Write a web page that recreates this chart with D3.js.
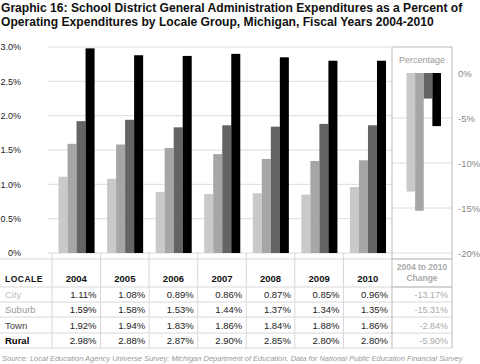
<!DOCTYPE html>
<html><head><meta charset="utf-8">
<script src="https://cdn.jsdelivr.net/npm/d3@7"></script>
<style>
body{margin:0;background:#fff;}
svg{font-family:"Liberation Sans",Arial,sans-serif;display:block;}
</style></head>
<body><svg id="c" width="480" height="364"></svg>
<script>
const years = ["2004","2005","2006","2007","2008","2009","2010"];
const locales = ["City","Suburb","Town","Rural"];
const city   = [1.11,1.08,0.89,0.86,0.87,0.85,0.96];
const suburb = [1.59,1.58,1.53,1.44,1.37,1.34,1.35];
const town   = [1.92,1.94,1.83,1.86,1.84,1.88,1.86];
const rural  = [2.98,2.88,2.87,2.90,2.85,2.80,2.80];
const change = [-13.17,-15.31,-2.84,-5.90];
const leftTicks = [0,0.5,1.0,1.5,2.0,2.5,3.0];
const rightTicks = [0,-5,-10,-15,-20];
const colors = ["#c9c9c9","#a6a6a6","#646464","#000000"];
const labelColors = ["#bdbdbd","#9a9a9a","#444","#000"];

const series = [city,suburb,town,rural];
const svg = d3.select("#c");

// title
svg.append("text").attr("x",1).attr("y",12).attr("font-size",12.1).attr("font-weight","bold").attr("fill","#111")
  .text("Graphic 16: School District General Administration Expenditures as a Percent of");
svg.append("text").attr("x",1).attr("y",26).attr("font-size",12.1).attr("font-weight","bold").attr("fill","#111")
  .text("Operating Expenditures by Locale Group, Michigan, Fiscal Years 2004-2010");

const x0 = d3.scaleBand().domain(years).range([52,392]).paddingInner(0).paddingOuter(0);
const x1 = d3.scaleBand().domain(locales).range([6.5,x0.bandwidth()-6]).padding(0);
const y = d3.scaleLinear().domain([0,3]).range([253,47]);

// left gridlines
svg.append("g").selectAll("line").data(leftTicks).join("line")
  .attr("x1",48).attr("x2",392).attr("y1",d=>y(d)).attr("y2",d=>y(d))
  .attr("stroke","#dcdcdc").attr("stroke-width",1);
svg.append("g").selectAll("text").data(leftTicks).join("text")
  .attr("x",21).attr("y",d=>y(d)+3.2).attr("text-anchor","end").attr("font-size",9).attr("fill","#222")
  .text(d=>d===0?"0%":d3.format(".1f")(d)+"%");

// bars
years.forEach((yr,i)=>{
  const g = svg.append("g").attr("transform",`translate(${x0(yr)},0)`);
  g.selectAll("rect").data(locales.map((l,j)=>({l,v:series[j][i],c:colors[j]}))).join("rect")
    .attr("x",d=>x1(d.l)).attr("width",x1.bandwidth()).attr("y",d=>y(d.v)).attr("height",d=>y(0)-y(d.v))
    .attr("fill",d=>d.c);
});

// right panel
const yr2 = d3.scaleLinear().domain([-20,0]).range([253,73]);
const px0 = 392, px1 = 452;
const xr = d3.scaleBand().domain(locales).range([406.5,441]).padding(0);
svg.append("g").selectAll("line").data(rightTicks.filter(d=>d!==0)).join("line")
  .attr("x1",px0).attr("x2",px1).attr("y1",d=>yr2(d)).attr("y2",d=>yr2(d))
  .attr("stroke","#dcdcdc");
svg.append("g").selectAll("rect").data(locales.map((l,j)=>({l,v:change[j],c:colors[j]}))).join("rect")
  .attr("x",d=>xr(d.l)).attr("width",xr.bandwidth()).attr("y",yr2(0)).attr("height",d=>yr2(d.v)-yr2(0))
  .attr("fill",d=>d.c);
svg.append("g").selectAll("text").data(rightTicks).join("text")
  .attr("x",458).attr("y",d=>yr2(d)+3.5).attr("font-size",9.5).attr("fill","#888")
  .text(d=>d+"%");
svg.append("text").attr("x",(px0+px1)/2).attr("y",63).attr("text-anchor","middle").attr("font-size",9).attr("fill","#999").text("Percentage");

// table
const rowY = [259,287,302,317,333,348];
const borderC = "#d8d8d8";
rowY.forEach(yy=>{
  svg.append("line").attr("x1",0).attr("x2",452).attr("y1",yy).attr("y2",yy).attr("stroke",borderC);
});
years.forEach(yr=>{
  svg.append("line").attr("x1",x0(yr)).attr("x2",x0(yr)).attr("y1",253).attr("y2",348).attr("stroke",borderC);
});
svg.append("path").attr("d",`M${px0},348V47H${px1}V348`).attr("fill","none").attr("stroke","#bbb");
svg.append("line").attr("x1",px0).attr("x2",px1).attr("y1",287).attr("y2",287).attr("stroke","#bbb");
svg.append("line").attr("x1",px0).attr("x2",px1).attr("y1",259).attr("y2",259).attr("stroke","#bbb");

svg.append("text").attr("x",5).attr("y",282).attr("font-size",8.5).attr("font-weight","bold").attr("letter-spacing",0.5).attr("fill","#111").text("LOCALE");
svg.selectAll(".yh").data(years).join("text").attr("class","yh")
  .attr("x",d=>x0(d)+x0.bandwidth()/2).attr("y",282).attr("text-anchor","middle")
  .attr("font-size",9.5).attr("font-weight","bold").attr("fill","#111").text(d=>d);
svg.append("text").attr("x",(px0+px1)/2).attr("y",270).attr("text-anchor","middle").attr("font-size",8.5).attr("font-weight","bold").attr("fill","#aaa").text("2004 to 2010");
svg.append("text").attr("x",(px0+px1)/2).attr("y",281).attr("text-anchor","middle").attr("font-size",8.5).attr("font-weight","bold").attr("fill","#aaa").text("Change");

locales.forEach((l,j)=>{
  const cy = (rowY[j+1]+rowY[j+2])/2 + 3.5;
  svg.append("text").attr("x",5).attr("y",cy).attr("font-size",9.5)
    .attr("font-weight",j===3?"bold":"normal").attr("fill",labelColors[j]).text(l);
  years.forEach((yr,i)=>{
    svg.append("text").attr("x",x0(yr)+x0.bandwidth()-4).attr("y",cy).attr("text-anchor","end")
      .attr("font-size",9.5).attr("fill","#222").text(series[j][i].toFixed(2)+"%");
  });
  svg.append("text").attr("x",px1-4).attr("y",cy).attr("text-anchor","end")
    .attr("font-size",9).attr("fill","#aaa").text(change[j].toFixed(2)+"%");
});

// source
svg.append("text").attr("x",2).attr("y",361).attr("font-size",7.5).attr("font-style","italic").attr("fill","#999")
  .text("Source: Local Education Agency Universe Survey; Michigan Department of Education, Data for National Public Education Financial Survey");
</script></body></html>
